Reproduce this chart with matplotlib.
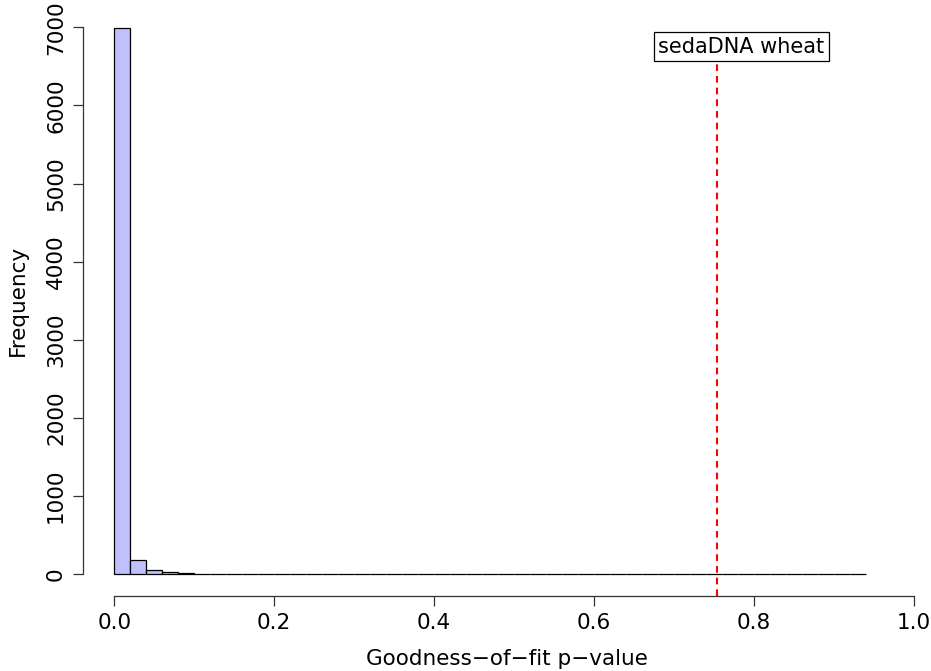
import numpy as np
import matplotlib
matplotlib.use("Agg")
import matplotlib.pyplot as plt

# histogram of goodness-of-fit p-values, bins of width 0.02 from 0 to 0.94
bin_start = 0.0
bin_width = 0.02
counts = [6987, 175, 54, 32, 15, 8, 4, 4, 7, 6,
          6, 2, 6, 2, 2, 6, 2, 6, 1, 2,
          1, 2, 6, 2, 1, 6, 2, 6, 2, 6,
          2, 1, 6, 2, 6, 5, 2, 1, 6, 5,
          2, 6, 2, 1, 6, 2, 1]
obs_pvalue = 0.7535
obs_label = "sedaDNA wheat"
label_x, label_y = 0.7845, 6750
x_ticks = [0.0, 0.2, 0.4, 0.6, 0.8, 1.0]
y_ticks = [0, 1000, 2000, 3000, 4000, 5000, 6000, 7000]

plt.rcParams['font.family'] = ['DejaVu Sans']
fs = 15.5

fig = plt.figure(figsize=(9.31, 6.71), dpi=100)
W, H = 931, 671
# plot region in pixels (R style: 4% padding around data range)
left_px, right_px = 82.7, 931
bottom_px, top_px = 596, 5.4
ax = fig.add_axes([left_px / W, 1 - bottom_px / H,
                   (right_px - left_px) / W, (bottom_px - top_px) / H])

edges = bin_start + bin_width * np.arange(len(counts) + 1)
ax.bar(edges[:-1], counts, width=bin_width, align='edge',
       color='#C0C0FF', edgecolor='black', linewidth=0.9)

ax.vlines(obs_pvalue, -280, label_y, color='#FF0000', linestyle=(0, (3.2, 2.4)),
          linewidth=1.5, zorder=3)
ax.text(label_x, label_y, obs_label, ha='center', va='center', fontsize=fs - 0.5, zorder=4,
        bbox=dict(boxstyle='square,pad=0.22', facecolor='white', edgecolor='black', linewidth=0.9))

px_x = 799.4
ax.set_xlim((left_px - 114.3) / px_x, (right_px - 114.3) / px_x)
ax.set_ylim(-280, 7280)

for s in ['top', 'right']:
    ax.spines[s].set_visible(False)
ax.spines['left'].set_bounds(0, 7000)
ax.spines['bottom'].set_bounds(0, 1.0)
for s in ['left', 'bottom']:
    ax.spines[s].set_linewidth(0.9)
    ax.spines[s].set_color('#333333')

ax.set_xticks(x_ticks)
ax.set_xticklabels([f"{v:.1f}" for v in x_ticks])
ax.set_yticks(y_ticks)
ax.set_yticklabels([str(v) for v in y_ticks], rotation=90, va='center')
ax.tick_params(length=7, width=0.9, color='#333333', labelsize=fs)
ax.tick_params(axis='x', pad=5)
ax.tick_params(axis='y', pad=5)

ax.set_xlabel("Goodness\u2212of\u2212fit p\u2212value", fontsize=fs, labelpad=12)
ax.set_ylabel("Frequency", fontsize=fs, labelpad=13)

fig.savefig("out.png", dpi=100)
